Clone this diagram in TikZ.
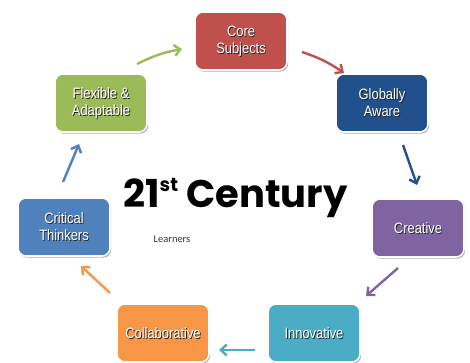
\documentclass[tikz,border=0pt]{standalone}
\usepackage{fontspec}
\setmainfont{Liberation Sans}
\newfontfamily\boxfont[FakeStretch=0.86]{Liberation Sans}
\newfontfamily\titlefont{Poppins Bold}
\newfontfamily\smallfont{Carlito}
\usetikzlibrary{arrows.meta,shadows}
\definecolor{cRed}{HTML}{C0504D}
\definecolor{cNavy}{HTML}{21508C}
\definecolor{cGreen}{HTML}{9BBB59}
\definecolor{cBlue}{HTML}{4F81BD}
\definecolor{cPurple}{HTML}{8064A2}
\definecolor{cCyan}{HTML}{4BACC6}
\definecolor{cOrange}{HTML}{F79646}
\tikzset{
  box/.style={draw=white, line width=1.6pt, rounded corners=8pt,
    minimum width=92pt, minimum height=58pt, inner sep=0pt,
    drop shadow={shadow xshift=1.2pt, shadow yshift=-1.6pt, fill=black!45, opacity=0.7}},
  txt/.style={font=\boxfont\fontsize{15pt}{17pt}\selectfont, align=center, inner sep=0pt},
  conn/.style={line width=2.4pt, -{Straight Barb[length=6pt,width=11pt,line width=2.4pt]}}
}
\newcommand\bx[4]{%
  \node[box, fill=#3] (#1) at (#2) {};
  \node[txt, text=black!85, xshift=0.9pt, yshift=-0.9pt] (#1-sh) at (#1.center) {#4};
  \node[txt, text=white] (#1-t) at (#1.center) {#4};
}
\begin{document}
\begin{tikzpicture}[x=1pt,y=-1pt]
\useasboundingbox (0,0) rectangle (470,363);
\bx{core}{241,41}{cRed}{Core\\Subjects}
\bx{glob}{382,103}{cNavy}{Globally\\Aware}
\bx{flex}{101,103}{cGreen}{Flexible \&\\Adaptable}
\bx{crit}{64,227}{cBlue}{Critical\\Thinkers}
\bx{crea}{418,228}{cPurple}{Creative}
\bx{coll}{163,333}{cOrange}{Collaborative}
\bx{inno}{314,333}{cCyan}{Innovative}

\coordinate (g1) at (137,64); \coordinate (g2) at (182,49);
\coordinate (r1) at (302,52); \coordinate (r2) at (344,73);
\coordinate (n1) at (403,145); \coordinate (n2) at (417,185);
\coordinate (p1) at (398,268); \coordinate (p2) at (366,296);
\coordinate (c1) at (255,350); \coordinate (c2) at (219,350);
\coordinate (o1) at (110,293); \coordinate (o2) at (81,266);
\coordinate (b1) at (63,182); \coordinate (b2) at (79,144);

\draw[conn, cGreen] (g1) to[bend left=8] (g2);
\draw[conn, cRed] (r1) to[bend left=8] (r2);
\draw[conn, cNavy] (n1) -- (n2);
\draw[conn, cPurple] (p1) -- (p2);
\draw[conn, cCyan] (c1) -- (c2);
\draw[conn, cOrange] (o1) -- (o2);
\draw[conn, cBlue] (b1) -- (b2);

\node[anchor=base west, inner sep=0pt, font=\titlefont\fontsize{38.5pt}{40pt}\selectfont] (title) at (123,207)
  {21\raisebox{15pt}{\fontsize{19pt}{20pt}\selectfont st} Century};
\node[font=\smallfont\fontsize{10.5pt}{12pt}\selectfont, text=black!80, inner sep=0pt] (learn) at (172,239) {Learners};
\end{tikzpicture}
\end{document}
